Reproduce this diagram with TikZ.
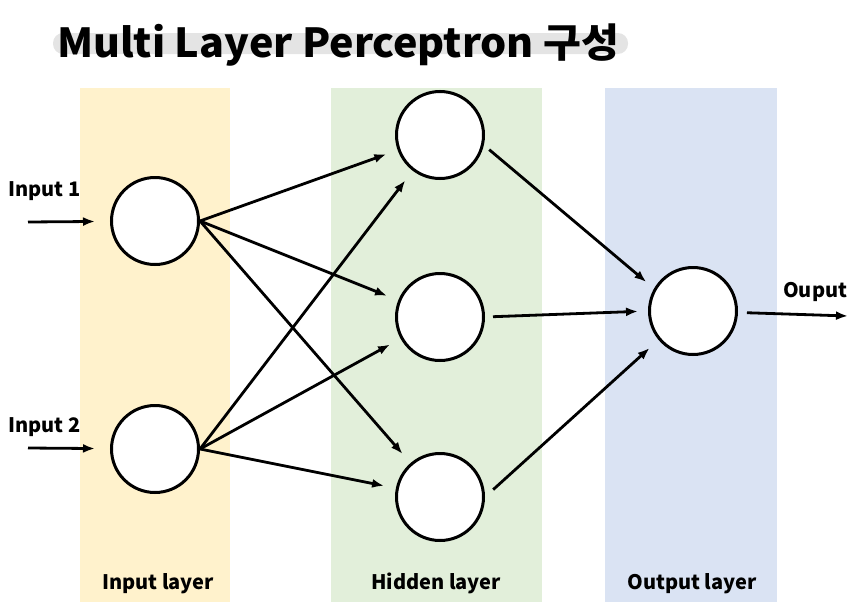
\documentclass[tikz,border=0pt]{standalone}
\usepackage{fontspec}
\setmainfont{Noto Sans CJK KR}
\usepackage{graphicx}
\usetikzlibrary{positioning}
\usetikzlibrary{calc}
\usetikzlibrary{arrows.meta}

\definecolor{inband}{HTML}{FFF2CC}
\definecolor{hidband}{HTML}{E2EFDA}
\definecolor{outband}{HTML}{DAE3F3}
\definecolor{titlebar}{HTML}{E4E4E4}

\tikzset{
  neuron/.style={circle,draw,line width=3pt,fill=white,minimum size=87pt,inner sep=0pt},
  lbl/.style={font=\fontsize{20}{24}\selectfont\bfseries,inner sep=0pt,anchor=base west},
  layerlbl/.style={font=\fontsize{20}{24}\selectfont\bfseries,inner sep=0pt,anchor=base},
  conn/.style={line width=2.8pt,-{Latex[length=12pt,width=9pt]},shorten >=12pt}
}

\begin{document}
\begin{tikzpicture}[x=1pt,y=-1pt]
\useasboundingbox (0,0) rectangle (862,605);

% layer bands
\fill[inband] (80,88) rectangle (230,602);
\fill[hidband] (331,88) rectangle (542,602);
\fill[outband] (605,88) rectangle (777,602);

% title
\fill[titlebar,rounded corners=10pt] (53,33) rectangle (628,54);
\node[anchor=base west,inner sep=0pt,font=\fontsize{40}{48}\selectfont\bfseries](title) at (57,57){\scalebox{1.03}[1]{Multi Layer Perceptron 구성}};

\node[neuron](in1) at (155,221){};
\node[neuron](in2) at (155,449){};
\node[neuron](h1) at (440,135){};
\node[neuron](h2) at (440,317){};
\node[neuron](h3) at (440,497){};
\node[neuron](out) at (693,311){};

\coordinate (srcA) at (28,222);
\coordinate (srcB) at (28,448);
\coordinate (sink) at (848,316);

\node[lbl](lab1) at (8,196){Input 1};
\node[lbl](lab2) at (8,432){Input 2};
\node[lbl](labout) at (783,297){Ouput};
\node[layerlbl](inlayer) at (158,589){Input layer};
\node[layerlbl](hidlayer) at (436,589){Hidden layer};
\node[layerlbl](outlayer) at (692,589){Output layer};

\path
(srcA) edge[conn,shorten >=15pt] (in1)
(srcB) edge[conn,shorten >=15pt] (in2)
(in1.east) edge[conn] (h1)
(in1.east) edge[conn] (h2)
(in1.east) edge[conn] (h3)
(in2.east) edge[conn] (h1)
(in2.east) edge[conn] (h2)
(in2.east) edge[conn] (h3)
(h1.-13) edge[conn,shorten <=7pt,shorten >=10pt] (out.150)
(h2.east) edge[conn,shorten <=8pt,shorten >=10pt] (out.west)
(h3.east) edge[conn,shorten <=11pt,shorten >=12pt] (out.220)
(out) edge[conn,shorten <=9pt,shorten >=0pt] (sink);
\end{tikzpicture}
\end{document}
